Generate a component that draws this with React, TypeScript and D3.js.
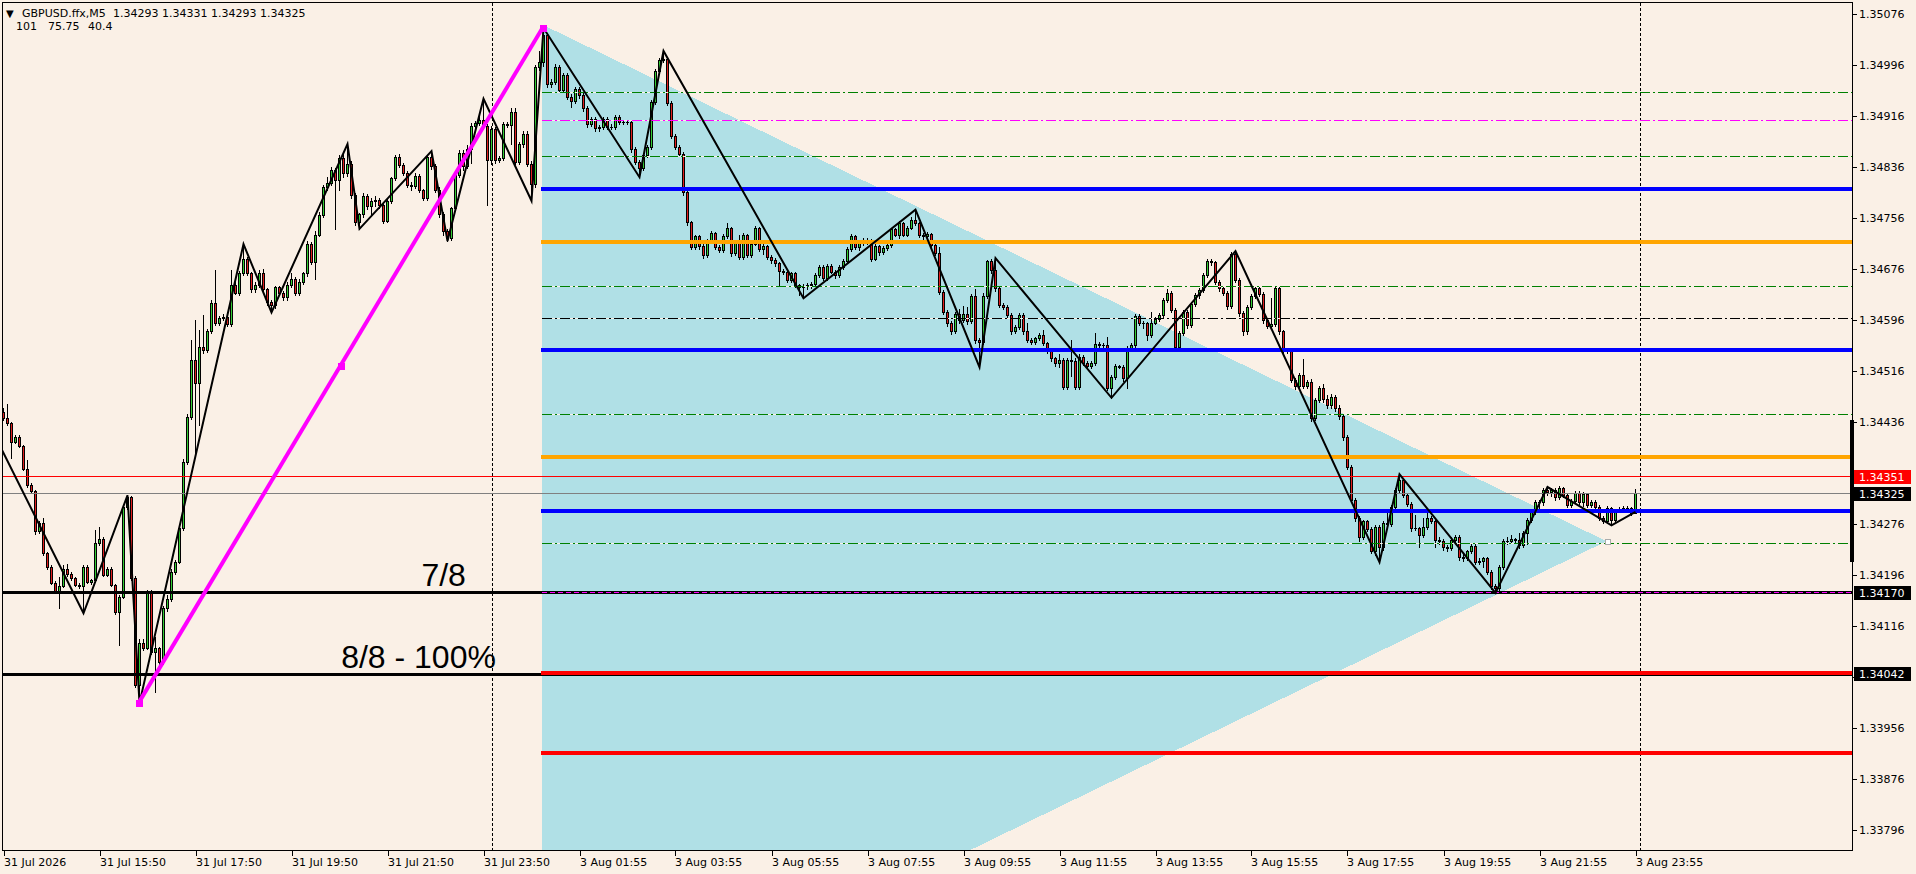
import React from 'react';
import * as d3 from 'd3';

// candle prices are stored in points above BASE (1 point = 0.00001)
const BASE = 1.337;
const PT = 0.00001;

const opens = [752,742,734,705,713,698,662,637,627,565,577,530,509,484,470,479,505,498,491,481,478,509,485,488,546,552,496,506,480,438,462,603,619,491,323,390,382,470,376,381,360,444,458,500,517,569,674,744,833,797,853,849,878,923,891,899,901,890,951,939,969,991,969,944,951,970,944,925,919,947,939,932,951,960,938,956,969,1016,987,1030,1061,1105,1111,1132,1116,1150,1126,1140,1092,1050,1062,1090,1075,1082,1085,1077,1052,1083,1118,1152,1139,1127,1108,1106,1122,1100,1088,1152,1137,1100,1063,1035,1024,1071,1123,1158,1137,1165,1200,1205,1210,1200,1147,1196,1147,1150,1204,1202,1223,1144,1172,1188,1141,1110,1293,1300,1343,1266,1270,1293,1257,1280,1246,1240,1258,1249,1228,1203,1212,1197,1198,1211,1199,1198,1215,1207,1206,1207,1164,1144,1134,1155,1168,1238,1286,1304,1306,1237,1185,1168,1157,1096,1049,1011,1027,1012,998,1020,1032,1011,1006,1028,1040,1001,1017,995,1029,998,1016,1040,1008,1012,995,990,985,973,971,959,969,951,947,949,951,952,967,979,962,981,972,966,979,989,1008,1028,1010,1017,1022,1020,992,1012,1002,1009,1014,1038,1030,1048,1030,1041,1053,1048,1029,1027,1031,1014,1001,940,909,891,878,905,896,905,894,933,865,862,933,988,975,946,920,917,904,878,885,904,878,865,862,867,873,860,849,836,828,834,791,833,831,791,838,829,824,829,858,857,857,789,807,824,823,805,852,857,902,892,891,872,892,897,904,928,939,912,853,876,909,888,921,935,943,967,988,987,956,946,939,918,999,959,907,878,917,933,946,937,896,887,889,946,878,849,848,802,792,810,793,799,742,771,789,772,762,776,758,745,712,666,614,585,556,580,568,533,572,540,577,576,603,629,645,622,608,569,570,559,571,586,580,551,549,540,538,551,556,524,522,533,541,517,518,522,501,478,475,509,550,549,552,551,543,562,582,595,611,610,629,626,630,618,632,621,606,612,625,611,623,606,610,603,586,580,601,582,597,600,601,601,593];
const highs = [758,765,736,716,715,700,676,640,630,580,585,532,511,486,493,512,513,501,493,483,511,512,490,566,572,555,508,508,482,465,605,621,620,495,395,395,473,473,399,383,448,465,505,520,575,678,748,865,896,880,904,882,928,975,903,905,908,974,956,973,1015,995,972,955,975,976,946,927,950,950,942,955,970,963,960,972,1020,1018,1035,1065,1108,1120,1136,1135,1155,1160,1172,1145,1095,1064,1095,1093,1088,1090,1088,1080,1087,1120,1155,1156,1142,1130,1112,1126,1125,1102,1155,1161,1140,1104,1066,1038,1074,1126,1162,1162,1170,1205,1208,1215,1243,1204,1200,1199,1153,1207,1206,1228,1228,1176,1192,1192,1145,1296,1318,1354,1346,1274,1297,1296,1284,1283,1250,1261,1261,1252,1231,1215,1215,1202,1214,1214,1203,1218,1218,1210,1210,1210,1167,1147,1158,1171,1241,1289,1307,1318,1309,1240,1188,1171,1160,1099,1052,1030,1029,1015,1023,1036,1034,1014,1031,1048,1042,1020,1029,1032,1031,1019,1044,1042,1015,1014,998,993,987,976,973,972,972,953,952,954,955,970,982,983,984,984,975,982,992,1011,1031,1030,1020,1025,1024,1023,1015,1014,1012,1017,1041,1040,1052,1050,1044,1057,1069,1050,1032,1034,1033,1016,1011,943,912,894,908,913,918,916,937,945,868,938,990,991,993,948,922,919,907,888,907,907,892,868,870,876,881,862,851,838,842,836,836,865,836,842,841,832,832,876,862,860,870,810,827,826,826,855,860,905,905,894,893,908,900,907,931,945,941,915,879,912,911,924,938,946,970,991,991,989,958,948,941,1002,1004,962,910,920,936,948,948,940,899,930,949,948,880,852,851,805,813,835,802,803,774,792,795,778,780,779,762,748,716,669,617,588,583,583,572,575,574,580,600,606,632,654,648,625,611,590,572,585,596,589,583,556,552,543,555,559,558,530,536,544,544,522,525,525,504,482,512,553,556,558,554,562,565,585,598,614,613,632,634,633,632,635,634,624,615,628,628,626,625,614,613,606,589,604,603,600,603,605,605,603,631];
const lows = [739,731,679,703,696,660,634,625,560,562,528,505,482,467,444,477,495,488,478,476,436,483,482,485,543,494,494,478,435,386,460,600,488,320,295,378,380,372,313,357,357,440,455,497,515,566,670,740,684,731,845,846,875,888,888,896,887,886,936,935,966,966,940,940,948,940,920,908,915,935,928,928,948,935,935,953,965,984,960,1027,1057,1100,1108,1038,1100,1120,1122,1088,1045,1039,1058,1070,1062,1075,1072,1048,1049,1080,1115,1136,1124,1104,1100,1103,1096,1084,1085,1133,1096,1058,1030,1020,1021,1068,1120,1132,1134,1142,1196,1202,1196,1077,1140,1143,1144,1147,1198,1172,1140,1140,1168,1137,1083,1105,1288,1295,1262,1262,1266,1254,1254,1243,1230,1237,1245,1224,1199,1200,1193,1193,1195,1196,1195,1195,1204,1203,1203,1160,1140,1121,1131,1152,1165,1235,1283,1300,1233,1181,1164,1153,1092,1045,1007,1008,1008,994,995,1017,1008,1002,1003,1025,997,998,992,992,995,995,1013,1004,1000,992,986,980,951,968,955,956,948,935,930,944,946,949,964,958,959,969,962,963,976,986,1005,1007,1006,1013,1016,988,990,998,999,1006,1011,1027,1024,1027,1027,1038,1045,1026,1022,1024,1010,998,936,905,887,874,875,892,893,890,891,860,822,858,930,970,942,916,913,900,874,875,882,874,861,858,859,864,857,845,832,824,822,788,788,808,788,788,826,820,820,826,854,854,786,774,804,820,800,790,849,854,888,884,864,869,889,894,901,925,908,849,850,873,884,885,918,931,940,964,983,952,942,935,913,915,955,903,873,874,913,930,933,892,883,885,886,874,845,845,798,788,789,789,790,738,739,768,768,758,758,754,740,708,662,610,580,550,552,565,530,528,516,536,570,573,600,626,618,604,565,566,540,556,568,577,540,545,536,534,535,548,520,518,519,530,513,514,508,497,474,468,472,506,545,546,548,539,540,545,579,592,600,606,622,620,614,615,618,602,603,609,607,604,602,603,600,582,577,577,574,579,595,597,598,590,593];
const closes = [742,734,705,713,698,662,637,627,565,577,530,509,484,470,479,505,498,491,481,478,509,485,488,546,552,496,506,480,438,462,603,619,491,323,390,382,470,376,381,360,444,458,500,517,569,674,744,833,797,853,849,878,923,891,899,901,890,951,939,969,991,969,944,951,970,944,925,919,947,939,932,951,960,938,956,969,1016,987,1030,1061,1105,1111,1132,1116,1150,1126,1140,1092,1050,1062,1090,1075,1082,1085,1077,1052,1083,1118,1152,1139,1127,1108,1106,1122,1100,1088,1152,1137,1100,1063,1035,1024,1071,1123,1158,1137,1165,1200,1205,1210,1200,1147,1196,1147,1150,1204,1202,1223,1144,1172,1188,1141,1110,1293,1300,1343,1266,1270,1293,1257,1280,1246,1240,1258,1249,1228,1203,1212,1197,1198,1211,1199,1198,1215,1207,1206,1207,1164,1144,1134,1155,1168,1238,1286,1304,1306,1237,1185,1168,1157,1096,1049,1011,1027,1012,998,1020,1032,1011,1006,1028,1040,1001,1017,995,1029,998,1016,1040,1008,1012,995,990,985,973,971,959,969,951,947,949,951,952,967,979,962,981,972,966,979,989,1008,1028,1010,1017,1022,1020,992,1012,1002,1009,1014,1038,1030,1048,1030,1041,1053,1048,1029,1027,1031,1014,1001,940,909,891,878,905,896,905,894,933,865,862,933,988,975,946,920,917,904,878,885,904,878,865,862,867,873,860,849,836,828,834,791,833,831,791,838,829,824,829,858,857,857,789,807,824,823,805,852,857,902,892,891,872,892,897,904,928,939,912,853,876,909,888,921,935,943,967,988,987,956,946,939,918,999,959,907,878,917,933,946,937,896,887,889,946,878,849,848,802,792,810,793,799,742,771,789,772,762,776,758,745,712,666,614,585,556,580,568,533,572,540,577,576,603,629,645,622,608,569,570,559,571,586,580,551,549,540,538,551,556,524,522,533,541,517,518,522,501,478,475,509,550,549,552,551,543,562,582,595,611,610,629,626,630,618,632,621,606,612,625,611,623,606,610,603,586,580,601,582,597,600,601,601,593,625];

const timeLabelBars = [0, 24, 48, 72, 96, 120, 144, 168, 192, 216, 240, 264, 288, 312, 336, 360, 384, 408];
const timeLabels = ['31 Jul 2026', '31 Jul 15:50', '31 Jul 17:50', '31 Jul 19:50', '31 Jul 21:50', '31 Jul 23:50',
  '3 Aug 01:55', '3 Aug 03:55', '3 Aug 05:55', '3 Aug 07:55', '3 Aug 09:55', '3 Aug 11:55', '3 Aug 13:55',
  '3 Aug 15:55', '3 Aug 17:55', '3 Aug 19:55', '3 Aug 21:55', '3 Aug 23:55'];
const priceTicks = [1.35076, 1.34996, 1.34916, 1.34836, 1.34756, 1.34676, 1.34596, 1.34516, 1.34436,
  1.34356, 1.34276, 1.34196, 1.34116, 1.34036, 1.33956, 1.33876, 1.33796];

// zigzag pivots (bar index, points)
const zigzagBars = [-1, 20, 31, 34, 60, 67, 86, 89, 107, 111, 120, 132, 135, 159, 165, 200, 228, 244, 248, 277, 308, 344, 349, 373, 386, 402, 408];
const zigzagPts = [700, 436, 621, 295, 1015, 908, 1172, 1039, 1161, 1020, 1243, 1083, 1354, 1120, 1318, 930, 1069, 822, 993, 774, 1004, 516, 654, 468, 634, 574, 595];

// level lines that start at the swing high
const levelStartBar = 134.5;
const greenDashLevels = [1.34954, 1.34853, 1.3465, 1.34448, 1.34246];
const magentaDashLevels = [1.34909];
const blackDashLevels = [1.34599];
const blueLevels = [1.34802, 1.34549, 1.34296];
const orangeLevels = [1.34719, 1.34381];
const redLevels = [1.34043, 1.33917];
// full-width lines
const octaveLevels = [1.34169, 1.3404];
const octaveLabels = ['7/8', '8/8 - 100%'];
const octaveLabelBars = [115.6, 123.1];
const askPrice = 1.34351;
const bidPrice = 1.34325;
const axisMarks = [1.34170, 1.34042];
const axisRange = [1.34216, 1.34439];

const triangleBars = [134.5, 400.75, 134.5];
const trianglePrices = [1.3506, 1.34249, 1.33438];
const trendBars = [33.75, 134.75];
const trendPrices = [1.33995, 1.35054];
const separatorBars = [122, 409];

const header = { symbol: 'GBPUSD.ffx,M5', ohlc: '1.34293 1.34331 1.34293 1.34325', values: ['101', '75.75', '40.4'] };

const W = 1916;
const H = 874;
const plotRight = 1852.5;
const plotBottom = 850.5;
const BG = '#FAF0E6';
const FONT = '"DejaVu Sans", Verdana, sans-serif';

const App: React.FC = () => {
  const x = d3.scaleLinear().domain([0, 408]).range([3.5, 1635.5]);
  const y = d3.scaleLinear().domain([1.33796, 1.35076]).range([830, 14]);
  const p = (v: number) => BASE + v * PT;
  const yr = (price: number) => Math.round(y(price));

  const zz = d3.line<number>()
    .x((_, i) => x(zigzagBars[i]))
    .y((d) => y(p(d)));

  const triPath = d3.line<number>()
    .x((_, i) => x(triangleBars[i]))
    .y((d) => y(d))(trianglePrices) + 'Z';

  const dashLine = (price: number, color: string, key: string) => {
    const yy = yr(price) + 0.5;
    return (
      <g key={key}>
        <line x1={x(levelStartBar)} x2={plotRight} y1={yy} y2={yy} stroke={BG} strokeWidth={1} />
        <line x1={x(levelStartBar)} x2={plotRight} y1={yy} y2={yy} stroke={color} strokeWidth={1} strokeDasharray="10,3,2,3" />
      </g>
    );
  };

  const thickLine = (price: number, color: string, key: string) => (
    <rect key={key} x={x(levelStartBar) - 1} width={plotRight - x(levelStartBar) + 1} y={yr(price) - 2} height={4} fill={color} />
  );

  const tm = trendBars.map((b, i) => [x(b), y(trendPrices[i])]);
  const mid = [(tm[0][0] + tm[1][0]) / 2, (tm[0][1] + tm[1][1]) / 2];

  // tick labels that sit under a price box are hidden, as in the terminal
  const boxed = [...axisMarks, bidPrice, askPrice];
  const visibleTicks = priceTicks.filter((t) => boxed.every((b) => Math.abs(y(t) - y(b)) > 10));

  return (
    <div style={{ position: 'fixed', left: 0, top: 0 }}>
      <svg width={W} height={H} style={{ display: 'block' }} shapeRendering="crispEdges">
        <defs>
          <clipPath id="plot">
            <rect x={3} y={3} width={plotRight - 3.5} height={plotBottom - 3.5} />
          </clipPath>
        </defs>
        <rect width={W} height={H} fill={BG} />

        <g clipPath="url(#plot)">
          <path d={triPath} fill="#B0E0E6" />

          {separatorBars.map((b) => (
            <line key={'sep' + b} x1={Math.round(x(b)) + 0.5} x2={Math.round(x(b)) + 0.5} y1={3} y2={plotBottom}
              stroke="#000" strokeDasharray="3,2" />
          ))}

          {closes.map((c, i) => {
            const o = p(opens[i]);
            const cl = p(c);
            const xc = x(i);
            const top = yr(Math.max(o, cl));
            const bot = yr(Math.min(o, cl));
            const up = cl >= o;
            return (
              <g key={i}>
                <line x1={xc} x2={xc} y1={yr(p(highs[i]))} y2={yr(p(lows[i])) + 1} stroke="#000" />
                <rect x={xc - 1.5} width={3} y={top} height={Math.max(1, bot - top + 1)} fill="#000" />
                {bot - top > 1 && (
                  <rect x={xc - 0.5} width={1} y={top + 1} height={bot - top - 1} fill={up ? '#33CC33' : '#E01E1E'} />
                )}
              </g>
            );
          })}

          {greenDashLevels.map((v, i) => dashLine(v, '#008000', 'g' + i))}
          {magentaDashLevels.map((v, i) => dashLine(v, '#FF00FF', 'm' + i))}
          {blackDashLevels.map((v, i) => dashLine(v, '#000000', 'k' + i))}

          <line x1={3} x2={plotRight} y1={yr(askPrice) + 0.5} y2={yr(askPrice) + 0.5} stroke="#FF0000" />
          <line x1={3} x2={plotRight} y1={yr(bidPrice) + 0.5} y2={yr(bidPrice) + 0.5} stroke="#808080" />

          {octaveLevels.map((v, i) => (
            <rect key={'o' + i} x={3} width={plotRight - 3} y={yr(v) - 1} height={3} fill="#000" />
          ))}
          <line x1={x(levelStartBar)} x2={plotRight} y1={yr(octaveLevels[0]) + 0.5} y2={yr(octaveLevels[0]) + 0.5}
            stroke="#FF00FF" strokeDasharray="5,3" />

          {blueLevels.map((v, i) => thickLine(v, '#0000FF', 'b' + i))}
          {orangeLevels.map((v, i) => thickLine(v, '#FFA500', 'or' + i))}
          {redLevels.map((v, i) => thickLine(v, '#FF0000', 'r' + i))}

          <g shapeRendering="auto">
            <path d={zz(zigzagPts) || ''} fill="none" stroke="#000" strokeWidth={2} />
            <line x1={tm[0][0]} y1={tm[0][1]} x2={tm[1][0]} y2={tm[1][1]} stroke="#FF00FF" strokeWidth={4} />
          </g>
          {[tm[0], mid, tm[1]].map((pt, i) => (
            <rect key={'sq' + i} x={Math.round(pt[0]) - 3} y={Math.round(pt[1]) - 3} width={7} height={7} fill="#FF00FF" />
          ))}
          <rect x={Math.round(x(triangleBars[1])) - 2} y={yr(trianglePrices[1]) - 2} width={5} height={5}
            fill="#fff" stroke="#aaa" />

          {octaveLabels.map((t, i) => (
            <text key={'ol' + i} x={x(octaveLabelBars[i])} y={yr(octaveLevels[i]) - 6} textAnchor="end"
              fontFamily='"Liberation Sans", Arial, sans-serif' fontSize={32} fill="#000">{t}</text>
          ))}
        </g>

        {/* frame */}
        <rect x={2.5} y={2.5} width={plotRight - 2.5} height={plotBottom - 2.5} fill="none" stroke="#000" />

        {/* price axis */}
        {priceTicks.map((t) => (
          <line key={'tk' + t} x1={plotRight} x2={plotRight + 4} y1={yr(t) + 0.5} y2={yr(t) + 0.5} stroke="#000" />
        ))}
        {visibleTicks.map((t) => (
          <text key={'pt' + t} x={1859} y={y(t) + 4} fontFamily={FONT} fontSize={11} fill="#000">{t.toFixed(5)}</text>
        ))}
        <rect x={1850} width={4} y={yr(axisRange[1])} height={yr(axisRange[0]) - yr(axisRange[1])} fill="#000" />

        {[...axisMarks, bidPrice].map((v) => (
          <g key={'am' + v}>
            <rect x={1854} width={57} y={yr(v) - 6} height={14} fill="#000" />
            <text x={1859} y={yr(v) + 5} fontFamily={FONT} fontSize={11} fill="#fff">{v.toFixed(5)}</text>
          </g>
        ))}
        <rect x={1854} width={57} y={yr(askPrice) - 6} height={14} fill="#FF0000" />
        <text x={1859} y={yr(askPrice) + 5} fontFamily={FONT} fontSize={11} fill="#fff">{askPrice.toFixed(5)}</text>

        {/* time axis */}
        {timeLabelBars.map((b, i) => (
          <g key={'tl' + b}>
            <line x1={Math.round(x(b)) + 0.5} x2={Math.round(x(b)) + 0.5} y1={plotBottom} y2={plotBottom + 5} stroke="#000" />
            <text x={Math.round(x(b))} y={866} fontFamily={FONT} fontSize={11} fill="#000">{timeLabels[i]}</text>
          </g>
        ))}

        {/* header */}
        <text x={6} y={17} fontFamily={FONT} fontSize={10} fill="#000">▼</text>
        <text x={22} y={17} fontFamily={FONT} fontSize={11} fill="#000">{header.symbol}</text>
        <text x={113} y={17} fontFamily={FONT} fontSize={11} fill="#000">{header.ohlc}</text>
        {header.values.map((v, i) => (
          <text key={'hv' + i} x={[16, 48, 88][i]} y={30} fontFamily={FONT} fontSize={11} fill="#000">{v}</text>
        ))}
      </svg>
    </div>
  );
};

export default App;
